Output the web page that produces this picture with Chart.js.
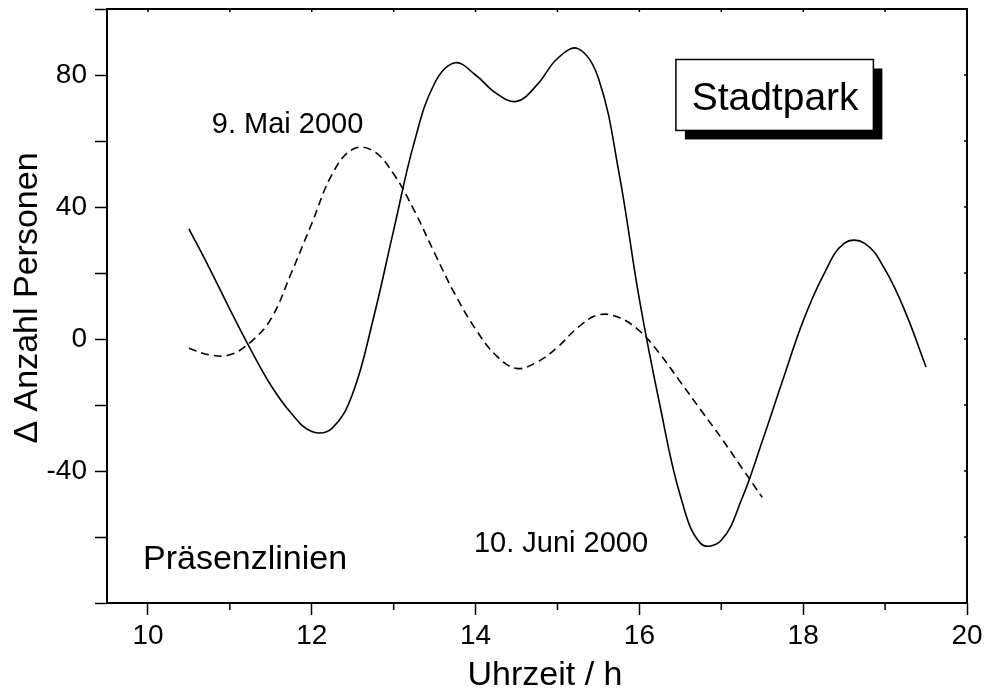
<!DOCTYPE html>
<html lang="de">
<head>
<meta charset="UTF-8">
<title>Stadtpark - Präsenzlinien</title>
<script src="https://cdn.jsdelivr.net/npm/chart.js"></script>
<style>
  body { margin: 0; background: #fff; }
</style>
</head>
<body>
<canvas id="chart" width="986" height="692"></canvas>
<script>
// Uhrzeit (h) und Delta Anzahl Personen
const hoursJuni = [10.5, 10.75, 11, 11.25, 11.5, 11.75, 12, 12.25, 12.5, 12.75, 13, 13.25, 13.5, 13.75,
  14, 14.25, 14.5, 14.75, 15, 15.25, 15.5, 15.75, 16, 16.25, 16.5, 16.75, 17, 17.25, 17.5, 17.75,
  18, 18.25, 18.5, 18.75, 19, 19.25, 19.5];
const juni = [33.4, 21.5, 9, -3, -14, -22.5, -28, -27, -16.5, 6, 33, 59.5, 77.5, 83.7,
  80, 74.5, 72, 77, 85, 88, 79, 50.5, 12, -20, -47.5, -62, -61, -48.5, -31, -12.5,
  5.5, 19.5, 29, 29, 21, 8, -8.5];

const hoursMai = [10.5, 10.75, 11, 11.25, 11.5, 11.75, 12, 12.25, 12.5, 12.75, 13, 13.25, 13.5, 13.75,
  14, 14.25, 14.5, 14.75, 15, 15.25, 15.5, 15.75, 16, 16.25, 16.5, 16.75, 17, 17.25, 17.5];
const mai = [-2.8, -4.8, -4.8, -1, 6, 20, 35, 50, 57.5, 57, 50, 39, 26, 13.5,
  3, -5, -8.9, -7, -2.5, 3.5, 7.3, 6.5, 2.5, -4.5, -13, -21.5, -30, -39, -48];

const xTicks = [10, 11, 12, 13, 14, 15, 16, 17, 18, 19, 20];
const xLabels = [10, 12, 14, 16, 18, 20];
const yTicks = [-80, -60, -40, -20, 0, 20, 40, 60, 80, 100];
const yLabels = [-40, 0, 40, 80];

const FONT = "'Liberation Sans', Arial, sans-serif";

const extras = {
  id: 'extras',
  afterDraw(chart) {
    const { ctx, chartArea: a, scales: { x, y } } = chart;
    ctx.save();
    ctx.strokeStyle = '#000';
    ctx.fillStyle = '#000';

    // frame
    ctx.lineWidth = 2;
    ctx.strokeRect(a.left, a.top, a.right - a.left, a.bottom - a.top);

    // minor ticks (odd hours) and small inner ticks
    ctx.lineWidth = 1.5;
    ctx.beginPath();
    xTicks.forEach(v => {
      const px = x.getPixelForValue(v);
      if (v % 2 !== 0) {
        ctx.moveTo(px, a.bottom);
        ctx.lineTo(px, a.bottom + 7);
      }
      ctx.moveTo(px, a.top);
      ctx.lineTo(px, a.top + 3);
    });
    for (let v = -60; v <= 80; v += 20) {
      const py = y.getPixelForValue(v);
      ctx.moveTo(a.right, py);
      ctx.lineTo(a.right - 3, py);
    }
    ctx.stroke();

    // axis titles
    ctx.font = '34px ' + FONT;
    ctx.textAlign = 'center';
    ctx.textBaseline = 'alphabetic';
    ctx.fillText('Uhrzeit / h', 545, 685);
    ctx.save();
    ctx.translate(37, 298);
    ctx.rotate(-Math.PI / 2);
    ctx.fillText('\u0394 Anzahl Personen', 0, 0);
    ctx.restore();

    // annotations
    ctx.textAlign = 'left';
    ctx.font = '29px ' + FONT;
    ctx.fillText('9. Mai 2000', x.getPixelForValue(10.78), y.getPixelForValue(62.5));
    ctx.fillText('10. Juni 2000', x.getPixelForValue(13.98), y.getPixelForValue(-64.5));
    ctx.font = '34px ' + FONT;
    ctx.fillText('Präsenzlinien', x.getPixelForValue(9.94), y.getPixelForValue(-69.6));

    // Stadtpark box with shadow
    const bx0 = x.getPixelForValue(16.446), bx1 = x.getPixelForValue(18.857);
    const by0 = y.getPixelForValue(84.7), by1 = y.getPixelForValue(63.2);
    ctx.fillRect(bx0 + 9, by0 + 9, bx1 - bx0, by1 - by0);
    ctx.fillStyle = '#fff';
    ctx.fillRect(bx0, by0, bx1 - bx0, by1 - by0);
    ctx.lineWidth = 1.5;
    ctx.strokeRect(bx0, by0, bx1 - bx0, by1 - by0);
    ctx.fillStyle = '#000';
    ctx.font = '39px ' + FONT;
    ctx.fillText('Stadtpark', x.getPixelForValue(16.638), y.getPixelForValue(69.5));
    ctx.restore();
  }
};

new Chart(document.getElementById('chart'), {
  type: 'line',
  data: {
    datasets: [
      {
        label: '10. Juni 2000',
        data: hoursJuni.map((h, i) => ({ x: h, y: juni[i] })),
        borderColor: '#000',
        borderWidth: 1.6,
        pointRadius: 0,
        tension: 0.4,
        fill: false
      },
      {
        label: '9. Mai 2000',
        data: hoursMai.map((h, i) => ({ x: h, y: mai[i] })),
        borderColor: '#000',
        borderWidth: 1.6,
        borderDash: [8, 5],
        pointRadius: 0,
        tension: 0.4,
        fill: false
      }
    ]
  },
  options: {
    responsive: false,
    animation: false,
    layout: { padding: { top: 9, right: 19, left: 0, bottom: 0 } },
    plugins: {
      legend: { display: false },
      tooltip: { enabled: false }
    },
    scales: {
      x: {
        type: 'linear',
        min: 9.5,
        max: 20,
        afterBuildTicks: s => { s.ticks = xTicks.map(v => ({ value: v })); },
        afterFit: s => { s.height = 89; s.paddingLeft = 0; s.paddingRight = 0; },
        border: { display: false },
        grid: {
          drawOnChartArea: false,
          drawTicks: true,
          tickLength: 12,
          tickWidth: 1.5,
          tickColor: c => (c.tick && c.tick.value % 2 === 0 ? '#000' : 'rgba(0,0,0,0)')
        },
        ticks: {
          color: '#000',
          padding: 4,
          maxRotation: 0,
          autoSkip: false,
          font: { family: FONT, size: 28 },
          callback: v => (xLabels.includes(v) ? String(v) : '')
        }
      },
      y: {
        type: 'linear',
        min: -80,
        max: 100,
        afterBuildTicks: s => { s.ticks = yTicks.map(v => ({ value: v })); },
        afterFit: s => { s.width = 107; s.paddingTop = 0; s.paddingBottom = 0; },
        border: { display: false },
        grid: {
          drawOnChartArea: false,
          drawTicks: true,
          tickLength: 12,
          tickWidth: 1.5,
          tickColor: '#000'
        },
        ticks: {
          color: '#000',
          padding: 8,
          autoSkip: false,
          font: { family: FONT, size: 28 },
          callback: v => (yLabels.includes(v) ? String(v) : '')
        }
      }
    }
  },
  plugins: [extras]
});
</script>
</body>
</html>
